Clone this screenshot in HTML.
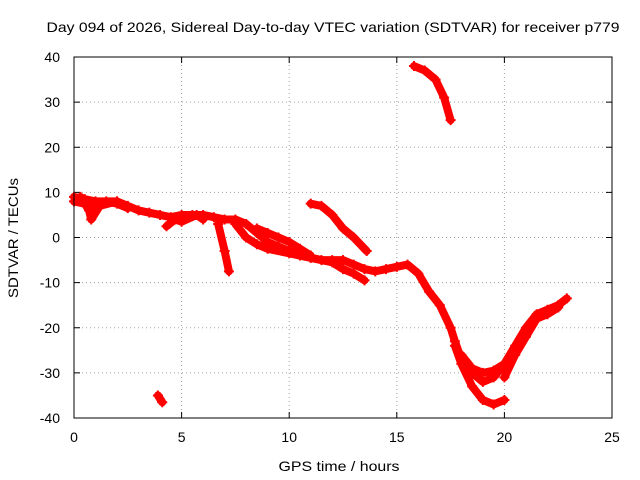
<!DOCTYPE html>
<html><head><meta charset="utf-8"><style>
body{margin:0;background:#fff;}
svg{display:block;font-family:"Liberation Sans",sans-serif;}
</style></head><body>
<svg id="chart" width="640" height="480">
<text x="333" y="32" font-size="14" text-anchor="middle" textLength="573" lengthAdjust="spacingAndGlyphs">Day 094 of 2026, Sidereal Day-to-day VTEC variation (SDTVAR) for receiver p779</text>
<text x="339" y="471" font-size="14" text-anchor="middle" textLength="121" lengthAdjust="spacingAndGlyphs">GPS time / hours</text>
<text x="18" y="238" font-size="14" text-anchor="middle" textLength="120" lengthAdjust="spacingAndGlyphs" transform="rotate(-90 18 238)">SDTVAR / TECUs</text>
<g id="grid"></g><g id="ticks"></g><g id="marks"></g>
<rect x="74" y="57" width="538" height="361" fill="none" stroke="#000" stroke-width="1"/>
</svg>
<script>
const xTicks=[0,5,10,15,20,25];
const yTicks=[-40,-30,-20,-10,0,10,20,30,40];
const trackMain=[[0,9],[0.5,8.5],[1,8],[2,8],[2.5,7],[3,6],[3.5,5.5],[4,5],[4.5,4.5],[5,5],[5.5,5],[6,5],[6.5,4.5],[7,4],[7.5,4],[8,3],[8.5,1],[9,-1],[9.5,-2],[10,-3],[10.5,-4],[11,-4.5],[11.5,-5],[12,-5],[12.5,-5],[13,-6],[13.5,-7],[14,-7.5],[14.5,-7],[15,-6.5],[15.5,-6],[16,-8],[16.5,-12],[17,-15],[17.5,-20],[17.7,-23],[18,-27],[18.5,-30],[19,-32],[19.5,-31],[20,-28],[20.5,-24],[21,-20],[21.5,-17],[22,-16],[22.5,-15],[22.9,-13.5]];
const trackLow=[[17.7,-24],[18,-28],[18.5,-33],[19,-36],[19.5,-37],[20,-36]];
const trackMid=[[18,-26],[18.5,-29],[19,-30],[19.5,-29.5],[20,-28]];
const trackEarly=[[0.3,9],[0.7,6],[0.8,4],[1.2,7],[2,8]];
const trackEarly2=[[0,8],[0.5,7.5],[1,7],[1.5,8],[2,7.5],[2.5,6.5]];
const trackDip=[[6.7,3],[7,-3],[7.2,-7.5]];
const trackLower=[[7.5,3],[8,0],[8.5,-1.5],[9,-2.5],[10,-3.5],[11,-4.5],[12,-5.5],[12.5,-7],[13,-8],[13.5,-9.5]];
const trackUpper=[[8.5,2],[9,1],[9.5,0],[10,-1],[10.5,-2.5],[11,-4]];
const trackG=[[11,7.5],[11.5,7],[12,5],[12.5,2],[13,0],[13.6,-3]];
const trackHigh=[[15.8,38],[16.3,37],[16.8,35],[17.2,31],[17.5,26]];
const trackIso=[[3.9,-35],[4.1,-36.5]];
const trackFive=[[4.3,2.5],[4.7,4],[5,3.5],[5.7,5],[6,4]];
const trackRise=[[20,-31],[20.5,-26],[21,-22],[21.5,-18],[22,-17],[22.5,-15.5]];
const tracks=[trackMain,trackLow,trackMid,trackEarly,trackEarly2,trackDip,trackLower,trackUpper,trackG,trackHigh,trackIso,trackFive,trackRise];
const NS="http://www.w3.org/2000/svg";
const X0=74,X1=612,Y0=418,Y1=57;
const xs=v=>X0+(v-0)/25*(X1-X0);
const ys=v=>Y0-(v+40)/80*(Y0-Y1);
const grid=document.getElementById('grid'),ticks=document.getElementById('ticks'),marks=document.getElementById('marks');
function mk(t,a,p){const e=document.createElementNS(NS,t);for(const k in a)e.setAttribute(k,a[k]);p.appendChild(e);return e;}
xTicks.forEach(v=>{const x=xs(v);
 if(v>0&&v<25){const g=mk('line',{x1:x,x2:x,y1:Y1,y2:Y0,stroke:'#a0a0a0','stroke-dasharray':'1,3'},grid);
 
 }
 const t=mk('text',{x:x,y:442,'font-size':14,'text-anchor':'middle'},ticks);t.textContent=v;
 
 
 mk('line',{x1:x,x2:x,y1:Y0,y2:Y0-6,stroke:'#000'},ticks);mk('line',{x1:x,x2:x,y1:Y1,y2:Y1+6,stroke:'#000'},ticks);});
yTicks.forEach(v=>{const y=ys(v);
 if(v>-40&&v<40){const g=mk('line',{x1:X0,x2:X1,y1:y,y2:y,stroke:'#a0a0a0','stroke-dasharray':'1,3'},grid);
 
 }
 const t=mk('text',{x:60,y:y+5,'font-size':14,'text-anchor':'end'},ticks);t.textContent=v;
 
 
 mk('line',{x1:X0,x2:X0+6,y1:y,y2:y,stroke:'#000'},ticks);mk('line',{x1:X1,x2:X1-6,y1:y,y2:y,stroke:'#000'},ticks);});
tracks.forEach((tr,i)=>{
 const pl=mk('polyline',{points:tr.map(p=>xs(p[0])+','+ys(p[1])).join(' '),fill:'none',stroke:'#f00','stroke-width':8,'stroke-linejoin':'round','stroke-linecap':'round'},marks);
 
 
 tr.forEach(p=>{const x=xs(p[0]),y=ys(p[1]);
  mk('path',{d:`M${x-5},${y}H${x+5}M${x},${y-5}V${y+5}`,stroke:'#f00','stroke-width':2},marks);});
});
</script>
</body></html>
